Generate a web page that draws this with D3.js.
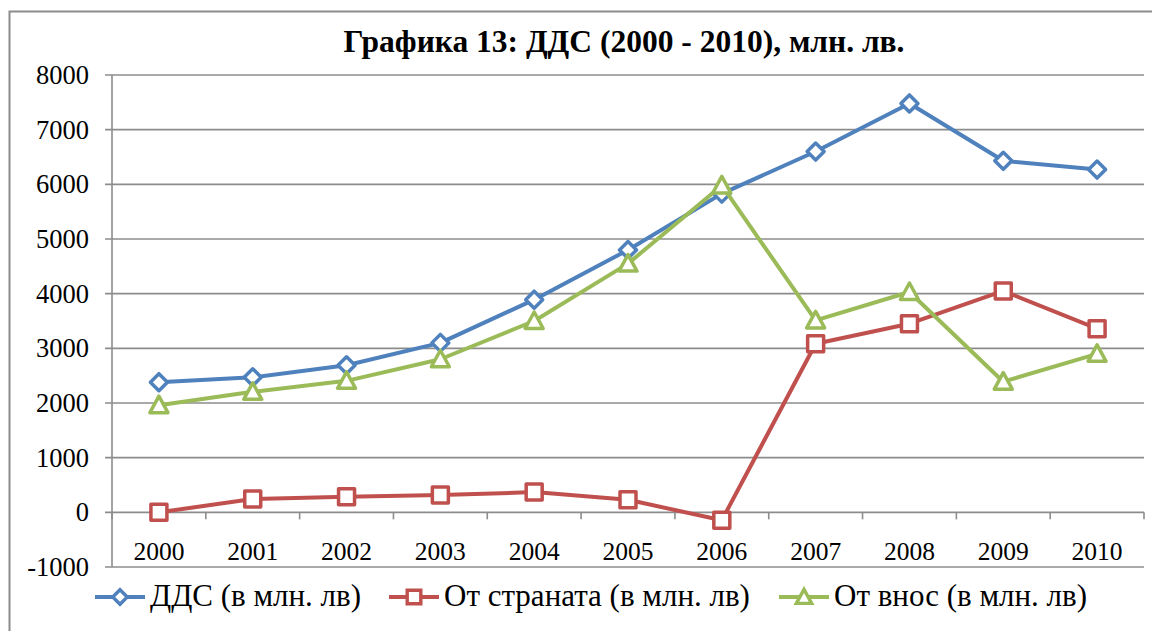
<!DOCTYPE html>
<html>
<head>
<meta charset="utf-8">
<script src="https://cdn.jsdelivr.net/npm/d3@7"></script>
</head>
<body style="margin:0">
<div id="container"></div>
<script>
const years = ['2000', '2001', '2002', '2003', '2004', '2005', '2006', '2007', '2008', '2009', '2010'];
const ddsValues = [2380, 2470, 2690, 3100, 3890, 4800, 5830, 6600, 7480, 6430, 6270];
const countryValues = [0, 243, 285, 315, 370, 230, -145, 3085, 3450, 4050, 3360];
const importValues = [1960, 2205, 2405, 2800, 3500, 4550, 5980, 3510, 4030, 2390, 2900];
const yTicks = [-1000, 0, 1000, 2000, 3000, 4000, 5000, 6000, 7000, 8000];
const seriesNames = ['ДДС (в млн. лв)', 'От страната (в млн. лв)', 'От внос (в млн. лв)'];
const seriesColors = ['#4F81BD', '#C0504D', '#9BBB59'];
const seriesShapes = ['diamond', 'square', 'triangle'];

const serif = "'Liberation Serif', 'Times New Roman', Tinos";

let viz = d3.select('#container')
    .append('svg')
    .attr('width', 1152)
    .attr('height', 631)
    .style('background', '#fff');

// outer chart frame (right and bottom are cut off in the picture)
viz.append('rect')
    .attr('x', 9.5).attr('y', 11.5)
    .attr('width', 1160).attr('height', 640)
    .attr('fill', 'none')
    .attr('stroke', '#8c8c8c')
    .attr('stroke-width', 2);

viz.append('text')
    .text('Графика 13: ДДС (2000 - 2010), млн. лв.')
    .attr('x', 624).attr('y', 52)
    .attr('text-anchor', 'middle')
    .style('font-family', serif)
    .style('font-weight', 'bold')
    .style('font-size', '31.5px');

const plot = { left: 112, right: 1144, top: 75, bottom: 567 };

let x = d3.scaleBand().domain(years).range([plot.left, plot.right]);
let y = d3.scaleLinear().domain([-1000, 8000]).range([plot.bottom, plot.top]);

// gridlines + y ticks
viz.append('g').selectAll('line').data(yTicks).enter()
    .append('line')
    .attr('x1', plot.left - 7).attr('x2', plot.right)
    .attr('y1', d => y(d)).attr('y2', d => y(d))
    .attr('stroke', '#8c8c8c').attr('stroke-width', 1.6);

viz.append('g').selectAll('text').data(yTicks).enter()
    .append('text')
    .text(d => d)
    .attr('x', 89).attr('y', d => y(d) + 9)
    .attr('text-anchor', 'end')
    .style('font-family', serif)
    .style('font-size', '26.5px');

// y axis line
viz.append('line')
    .attr('x1', plot.left).attr('x2', plot.left)
    .attr('y1', plot.top).attr('y2', plot.bottom)
    .attr('stroke', '#8c8c8c').attr('stroke-width', 1.6);

// category axis sits on zero
let boundaries = years.map(d => x(d)).concat([plot.right]);
viz.append('g').selectAll('line').data(boundaries).enter()
    .append('line')
    .attr('x1', d => d).attr('x2', d => d)
    .attr('y1', y(0)).attr('y2', y(0) + 7)
    .attr('stroke', '#8c8c8c').attr('stroke-width', 1.6);

viz.append('g').selectAll('text').data(years).enter()
    .append('text')
    .text(d => d)
    .attr('x', d => x(d) + x.bandwidth() / 2)
    .attr('y', 560)
    .attr('text-anchor', 'middle')
    .style('font-family', serif)
    .style('font-size', '25.5px');

function markerPath(shape) {
    if (shape === 'diamond') return 'M0,-8.5L8.5,0L0,8.5L-8.5,0Z';
    if (shape === 'square') return 'M-8,-8H8V8H-8Z';
    return 'M0,-9L9,7.5H-9Z';
}

const allValues = [ddsValues, countryValues, importValues];
let line = d3.line()
    .x((d, i) => x(years[i]) + x.bandwidth() / 2)
    .y(d => y(d));

allValues.forEach((vals, s) => {
    let g = viz.append('g');
    g.append('path')
        .attr('d', line(vals))
        .attr('fill', 'none')
        .attr('stroke', seriesColors[s])
        .attr('stroke-width', 4)
        .attr('stroke-linejoin', 'round');
    g.selectAll('path.m').data(vals).enter()
        .append('path')
        .attr('class', 'm')
        .attr('d', markerPath(seriesShapes[s]))
        .attr('transform', (d, i) => `translate(${x(years[i]) + x.bandwidth() / 2},${y(d)})`)
        .attr('fill', '#fff')
        .attr('stroke', seriesColors[s])
        .attr('stroke-width', 3.5)
        .attr('stroke-linejoin', 'round');
});

// legend
const legendX = [95, 389, 779];
let legend = viz.append('g').selectAll('g').data(seriesNames).enter()
    .append('g')
    .attr('transform', (d, i) => `translate(${legendX[i]},597)`);

legend.append('line')
    .attr('x1', 0).attr('x2', 50)
    .attr('stroke', (d, i) => seriesColors[i])
    .attr('stroke-width', 4);
legend.append('path')
    .attr('d', (d, i) => markerPath(seriesShapes[i]))
    .attr('transform', 'translate(25,0) scale(0.85)')
    .attr('fill', '#fff')
    .attr('stroke', (d, i) => seriesColors[i])
    .attr('stroke-width', 4);
legend.append('text')
    .text(d => d)
    .attr('x', 55).attr('y', 9)
    .style('font-family', serif)
    .style('font-size', '31px');
</script>
</body>
</html>
